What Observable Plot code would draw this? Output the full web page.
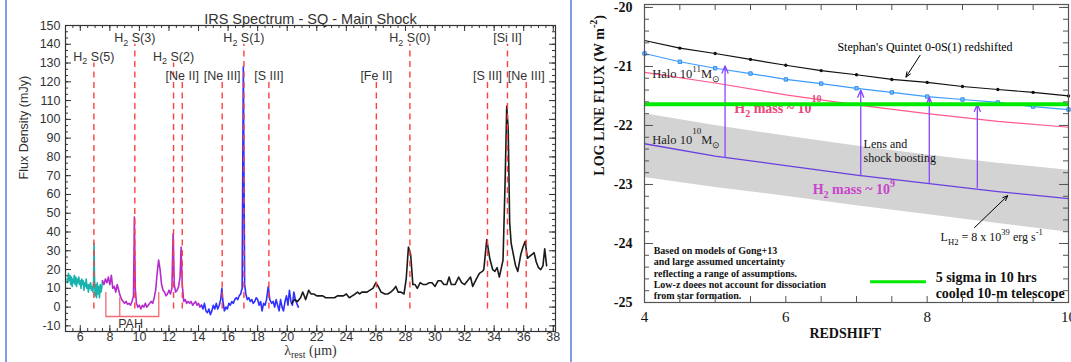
<!DOCTYPE html>
<html>
<head>
<meta charset="utf-8">
<script src="https://cdn.jsdelivr.net/npm/d3@7"></script>
<script src="https://cdn.jsdelivr.net/npm/@observablehq/plot@0.6"></script>
<style>
html,body{margin:0;padding:0;background:#fff;}
#wrap{position:relative;width:1071px;height:362px;overflow:hidden;background:#fff;}
#left{position:absolute;left:0;top:0;width:565px;height:362px;}
#right{position:absolute;left:575px;top:0;width:496px;height:362px;}
.sep{position:absolute;top:0;width:2px;height:362px;background:#7d9ee0;}
svg{overflow:visible;}
</style>
</head>
<body>
<div id="wrap">
<div id="left"></div>
<div id="right"></div>
<div class="sep" style="left:5px"></div>
<div class="sep" style="left:570px"></div>
</div>
<script>
// ================= LEFT PANEL DATA: IRS spectrum =================
const leftTitle = "IRS Spectrum - SQ - Main Shock";
const xTicksL = d3.range(6, 39, 2);
const yTicksL = d3.range(-10, 151, 10);

const cyanW = [5.10,5.15,5.20,5.25,5.30,5.35,5.40,5.45,5.50,5.55,5.60,5.65,5.70,5.75,5.80,5.85,5.90,5.95,6.00,6.05,6.10,6.15,6.20,6.25,6.30,6.35,6.40,6.45,6.50,6.55,6.60,6.65,6.70,6.75,6.80,6.85,6.90,6.93,6.96,7.00,7.05,7.10,7.15,7.20,7.25,7.30,7.35,7.40,7.45,7.50];
const cyanF = [15,13,18,14,17,12,16,11,15,13,17,12,16,11,15,13,16,12,14,10,15,12,14,9,13,11,15,10,12,8,12,10,13,9,11,8,14,34,17,6,12,5,13,7,11,5,12,8,10,14];

const magW = [7.50,7.60,7.70,7.80,7.90,8.00,8.05,8.10,8.20,8.30,8.40,8.50,8.60,8.70,8.80,8.90,9.00,9.10,9.20,9.30,9.40,9.50,9.60,9.66,9.72,9.80,9.90,10.0,10.1,10.2,10.3,10.4,10.5,10.6,10.7,10.8,10.9,11.0,11.1,11.2,11.3,11.4,11.5,11.6,11.7,11.8,11.9,12.0,12.1,12.2,12.28,12.36,12.45,12.55,12.65,12.75,12.82,12.90,13.0,13.1,13.2,13.3,13.4,13.5,13.6,13.7,13.8,13.9,14.0,14.1,14.2];
const magF = [14,12,15,13,16,12,14,17,10,11,8,12,9,6,4,3,2,3,1.5,2,1,3,6,48,10,2,0,1,-1,1,0,2,0,1,2,3,2,5,9,18,25,20,12,9,8,6,7,9,7,10,39,12,8,9,11,16,32,12,3,4,2,3,2,3,1,2,3,1,2,0,1];

const blueW = [14.2,14.3,14.4,14.5,14.6,14.7,14.8,14.9,15.0,15.1,15.2,15.3,15.4,15.5,15.58,15.65,15.75,15.85,15.95,16.05,16.15,16.25,16.35,16.45,16.55,16.65,16.75,16.85,16.95,17.03,17.12,17.2,17.3,17.4,17.5,17.6,17.7,17.8,17.9,18.0,18.1,18.2,18.3,18.4,18.5,18.6,18.72,18.82,18.95,19.05,19.15,19.25,19.35,19.45,19.55,19.65,19.75,19.85,19.95,20.05,20.15,20.25,20.35,20.45,20.55,20.65,20.75];
const blueF = [1,-1,2,-2,-3,-1,-4,-2,1,-1,2,-1,1,4,10,3,-2,0,-1,2,1,3,2,4,5,4,6,7,10,128,12,7,4,5,3,4,2,3,5,4,1,3,-2,2,1,4,11,4,2,3,0,4,1,-2,4,0,-2,3,6,1,9,3,1,8,4,2,0];

const blackW = [20.3,20.5,20.7,20.9,21.05,21.25,21.45,21.6,21.8,22.0,22.2,22.4,22.6,22.8,23.0,23.2,23.4,23.6,23.8,24.0,24.2,24.4,24.6,24.75,24.9,25.05,25.2,25.4,25.6,25.8,26.0,26.15,26.35,26.6,26.8,27.0,27.15,27.35,27.5,27.7,27.9,28.05,28.2,28.35,28.5,28.65,28.8,29.0,29.2,29.4,29.6,29.8,30.0,30.2,30.4,30.6,30.8,30.95,31.1,31.35,31.6,31.8,32.0,32.2,32.4,32.55,32.8,33.0,33.2,33.3,33.5,33.7,33.9,34.05,34.2,34.35,34.6,34.75,34.85,34.95,35.05,35.15,35.3,35.45,35.6,35.8,35.95,36.1,36.25,36.4,36.55,36.7,36.85,37.0,37.15,37.3,37.42,37.55];
const blackF = [2,4,3,5,8,4,9,7,7,6,6,6,5,5,5,5,6,6,6,7,5,6,7,8,7,8,8,8,9,10,13,11,8,7,7,8,9,11,8,8,7,15,32,28,12,12,10,13,12,12,13,13,11,14,14,12,12,16,12,12,16,13,12,14,16,11,15,18,19,20,36,26,20,19,21,16,25,70,107,95,45,34,28,22,19,28,32,35,26,27,28,29,24,21,20,22,31,22];

const lineW = [6.92, 9.69, 12.31, 12.90, 15.60, 17.07, 18.76, 26.03, 28.30, 33.55, 34.90, 36.17];
const lineTop = [130, 140, 130, 120, 120, 140, 120, 120, 140, 120, 140, 120];
const lineLabel = ["H_{2} S(5)", "H_{2} S(3)", "H_{2} S(2)", "[Ne II]", "[Ne III]", "H_{2} S(1)", "[S III]", "[Fe II]", "H_{2} S(0)", "[S III]", "[Si II]", "[Ne III]"];

const pahW = [7.73, 7.73, 11.31, 11.31];
const pahF = [7.8, -5, -5, 7.8];
const pahMidW = [8.67];
const pahMidTop = 5;

// ================= RIGHT PANEL DATA: H2 line flux vs redshift =================
const zFine = [4, 4.5, 5, 5.5, 6, 6.5, 7, 7.5, 8, 8.5, 9, 9.5, 10];
const sqFlux = [-20.56,-20.69,-20.78,-20.88,-20.98,-21.07,-21.14,-21.22,-21.27,-21.34,-21.39,-21.44,-21.50];
const halo11Flux = [-20.78,-20.92,-21.03,-21.12,-21.22,-21.29,-21.37,-21.44,-21.51,-21.56,-21.61,-21.68,-21.73];
const zCoarse = [4, 5, 6, 7, 8, 9, 10];
const mass10Flux = [-21.10,-21.28,-21.48,-21.65,-21.80,-21.93,-22.03];
const mass9Flux = [-22.31,-22.52,-22.68,-22.84,-22.98,-23.12,-23.24];
const bandHi = [-21.80,-22.00,-22.18,-22.35,-22.50,-22.64,-22.76];
const bandLo = [-22.88,-23.05,-23.20,-23.36,-23.51,-23.66,-23.81];
const sensitivity = -21.64;
const boostZ = [5.14, 7.06, 8.03, 8.71];
const boostFrom = [-22.53, -22.85, -22.97, -23.05];
const boostTo = [-20.99, -21.40, -21.52, -21.64];
const xTicksR = [4, 6, 8, 10];
const yTicksR = [-25, -24, -23, -22, -21, -20];
const noteLines = ["Based on models of Gong+13", "and large assumed uncertainty", "reflecting a range of assumptions.", "Low-z doees not account for dissociation", "from star formation."];
const legendLines = ["5 sigma in 10 hrs", "cooled 10-m telescope"];

// ================= helpers =================
const SVGNS = "http://www.w3.org/2000/svg";
function rich(svg) {
  svg.querySelectorAll("text, tspan").forEach(el => {
    if (el.querySelector("tspan")) return;
    const s = el.textContent;
    if (!/[\^_]\{/.test(s)) return;
    const fs = parseFloat(getComputedStyle(el).fontSize) || 12;
    const parts = s.split(/(\^\^\{[^}]*\}|\^\{[^}]*\}|_\{[^}]*\})/).filter(p => p !== "");
    el.textContent = "";
    let cur = 0;
    const add = (txt, off, small) => {
      const t = document.createElementNS(SVGNS, "tspan");
      const d = off - cur;
      if (d) t.setAttribute("dy", d);
      cur = off;
      if (small) t.setAttribute("font-size", (fs * 0.72).toFixed(2));
      t.textContent = txt;
      el.appendChild(t);
    };
    for (const p of parts) {
      if (p.startsWith("^^{")) add(p.slice(3, -1), -fs * 0.85, true);
      else if (p.startsWith("^{")) add(p.slice(2, -1), -fs * 0.5, true);
      else if (p.startsWith("_{")) add(p.slice(2, -1), fs * 0.28, true);
      else add(p, 0, false);
    }
  });
}
const pairs = (xs, ys, kx, ky) => xs.map((x, i) => ({[kx]: x, [ky]: ys[i]}));

// ================= LEFT PLOT =================
const LX = [5, 38.15], LY = [-13, 150];
const LW = 565, LH = 362, LM = {l: 65, r: 10, t: 25, b: 31};
const lkx = (LW - LM.l - LM.r) / (LX[1] - LX[0]);
const lky = (LH - LM.t - LM.b) / (LY[1] - LY[0]);
const xMinorL = d3.range(5, 38.01, 0.5);
const yMinorL = d3.range(-10, 150.01, 10 / 3);
const lines = lineW.map((w, i) => ({w, top: lineTop[i], label: lineLabel[i]}));
const tickC = "#333";

const left = Plot.plot({
  width: LW, height: LH,
  marginLeft: LM.l, marginRight: LM.r, marginTop: LM.t, marginBottom: LM.b,
  style: {fontFamily: "'Liberation Sans', Arial, sans-serif", fontSize: "12.5px", color: "#333", background: "transparent"},
  x: {domain: LX},
  y: {domain: LY},
  marks: [
    Plot.line(pairs(cyanW, cyanF, "w", "f"), {x: "w", y: "f", stroke: "#19b3ad", strokeWidth: 1.6}),
    Plot.line(pairs(magW, magF, "w", "f"), {x: "w", y: "f", stroke: "#b52bcc", strokeWidth: 1.6}),
    Plot.line(pairs(blueW, blueF, "w", "f"), {x: "w", y: "f", stroke: "#2f2fff", strokeWidth: 1.6}),
    Plot.line(pairs(blackW, blackF, "w", "f"), {x: "w", y: "f", stroke: "#1a1a1a", strokeWidth: 1.6}),
    Plot.ruleX(lines, {x: "w", y1: -1, y2: "top", stroke: "#ff3f3f", strokeWidth: 1.4, strokeDasharray: "6,4.5"}),
    Plot.text(lines, {x: "w", y: d => d.top + 3.3, text: "label", fill: "#333", fontSize: 12.5}),
    Plot.line(pairs(pahW, pahF, "w", "f"), {x: "w", y: "f", stroke: "#f26a72", strokeWidth: 1.3}),
    Plot.ruleX(pahMidW, {x: d => d, y1: pahF[1], y2: pahMidTop, stroke: "#f26a72", strokeWidth: 1.3}),
    Plot.text(["PAH"], {x: 9.4, y: -8.9, text: d => d, fill: "#333", fontSize: 12.5}),
    Plot.text([leftTitle], {frameAnchor: "top", dy: -12, text: d => d, fill: "#333", fontSize: 14.5}),
    Plot.text(["λ_{rest} (μm)"], {frameAnchor: "bottom", dy: 23, text: d => d, fill: "#333", fontSize: 14, fontFamily: "'Liberation Serif', serif"}),
    Plot.text(["Flux Density (mJy)"], {frameAnchor: "left", y: 68, dx: -42, rotate: -90, text: d => d, fill: "#333", fontSize: 12.5}),
    Plot.ruleX(xMinorL, {x: d => d, y1: LY[0], y2: LY[0] + 3 / lky, stroke: tickC}),
    Plot.ruleX(xTicksL, {x: d => d, y1: LY[0], y2: LY[0] + 6 / lky, stroke: tickC}),
    Plot.ruleX(xMinorL, {x: d => d, y1: LY[1], y2: LY[1] - 3 / lky, stroke: tickC}),
    Plot.ruleX(xTicksL, {x: d => d, y1: LY[1], y2: LY[1] - 6 / lky, stroke: tickC}),
    Plot.ruleY(yMinorL, {y: d => d, x1: LX[0], x2: LX[0] + 3 / lkx, stroke: tickC}),
    Plot.ruleY(yTicksL, {y: d => d, x1: LX[0], x2: LX[0] + 6 / lkx, stroke: tickC}),
    Plot.ruleY(yMinorL, {y: d => d, x1: LX[1], x2: LX[1] - 3 / lkx, stroke: tickC}),
    Plot.ruleY(yTicksL, {y: d => d, x1: LX[1], x2: LX[1] - 6 / lkx, stroke: tickC}),
    Plot.frame({stroke: "#333", strokeWidth: 1.2}),
    Plot.axisX(xTicksL, {tickSize: 0, tickPadding: 1, label: null, fill: "#333", fontSize: 12.5, tickFormat: d => String(d)}),
    Plot.axisY(yTicksL, {tickSize: 0, tickPadding: 5, label: null, fill: "#333", fontSize: 12.5, tickFormat: d => String(d)})
  ]
});
document.getElementById("left").appendChild(left);
rich(left);

// ================= RIGHT PLOT =================
const RX = [4, 10], RY = [-25, -19.95];
const RW = 496, RH = 362, RM = {l: 69, r: 3, t: 4, b: 60};
const rkx = (RW - RM.l - RM.r) / (RX[1] - RX[0]);
const rky = (RH - RM.t - RM.b) / (RY[1] - RY[0]);
const yMinorR = d3.range(-25, -19.99, 0.2);
const xMinorR = d3.range(4, 10.01, 0.5);
const band = zCoarse.map((z, i) => ({z, lo: bandLo[i], hi: bandHi[i]}));
const sq = pairs(zFine, sqFlux, "z", "v");
const h11 = pairs(zFine, halo11Flux, "z", "v");
const m10 = pairs(zCoarse, mass10Flux, "z", "v");
const m9 = pairs(zCoarse, mass9Flux, "z", "v");
const boosts = boostZ.map((z, i) => ({z, from: boostFrom[i], to: boostTo[i]}));
const rTick = "#555";
const serif = "'Liberation Serif', 'Times New Roman', serif";

const right = Plot.plot({
  width: RW, height: RH,
  marginLeft: RM.l, marginRight: RM.r, marginTop: RM.t, marginBottom: RM.b,
  style: {fontFamily: serif, fontSize: "13px", color: "#000", background: "transparent"},
  x: {domain: RX},
  y: {domain: RY},
  marks: [
    Plot.areaY(band, {x: "z", y1: "lo", y2: "hi", fill: "#d3d3d3"}),
    Plot.line(m10, {x: "z", y: "v", stroke: "#ff5a8c", strokeWidth: 1.2}),
    Plot.line(m9, {x: "z", y: "v", stroke: "#6a3fe0", strokeWidth: 1.3}),
    Plot.line(h11, {x: "z", y: "v", stroke: "#3c9cff", strokeWidth: 1.2}),
    Plot.dot(h11, {x: "z", y: "v", symbol: "square", r: 1.9, fill: "#7fbfff", stroke: "#2f8cf0", strokeWidth: 1}),
    Plot.line(sq, {x: "z", y: "v", stroke: "#111", strokeWidth: 1.2}),
    Plot.dot(sq.slice(1), {x: "z", y: "v", r: 1.7, fill: "#111"}),
    Plot.text(["Stephan's Quintet 0-0S(1) redshifted"], {x: 6.73, y: -20.68, text: d => d, textAnchor: "start", fontSize: 12, fill: "#000"}),
    Plot.text(["Halo 10^{11}M_{⊙}"], {x: 4.11, y: -21.13, text: d => d, textAnchor: "start", fontSize: 12.5, fill: "#222"}),
    Plot.text(["Halo 10^^{10}M_{⊙}"], {x: 4.11, y: -22.25, text: d => d, textAnchor: "start", fontSize: 12.5, fill: "#222"}),
    Plot.text(["H_{2} mass ~ 10^^{10}"], {x: 5.27, y: -21.72, text: d => d, textAnchor: "start", fontSize: 14, fontWeight: "bold", fill: "#e8467c"}),
    Plot.text(["Lens and\nshock boosting"], {x: 7.1, y: -22.42, text: d => d, textAnchor: "start", fontSize: 12, lineHeight: 1.2, fill: "#111"}),
    Plot.text(["H_{2} mass ~ 10^{9}"], {x: 6.38, y: -23.09, text: d => d, textAnchor: "start", fontSize: 14, fontWeight: "bold", fill: "#c944cc"}),
    Plot.text(["L_{H2} = 8 x 10^{39} erg s^{-1}"], {x: 8.19, y: -23.9, text: d => d, textAnchor: "start", fontSize: 12, fill: "#111"}),
    Plot.text([noteLines.join("\n")], {x: 4.13, y: -24.5, text: d => d, textAnchor: "start", fontSize: 10, fontWeight: "bold", lineHeight: 1.13, fill: "#111"}),
    Plot.arrow(boosts, {x1: "z", x2: "z", y1: "from", y2: "to", stroke: "#8b45ff", strokeWidth: 1.3, headLength: 9, headAngle: 45}),
    Plot.ruleY([sensitivity], {y: d => d, stroke: "#00ea00", strokeWidth: 4}),
    Plot.arrow([{x1: 7.9, y1: -20.81, x2: 7.7, y2: -21.18}, {x1: 8.67, y1: -23.73, x2: 9.14, y2: -23.19}], {x1: "x1", y1: "y1", x2: "x2", y2: "y2", stroke: "#000", strokeWidth: 1, headLength: 8, headAngle: 45}),
    Plot.ruleY([{v: -24.65}], {y: "v", x1: 7.2, x2: 7.99, stroke: "#00ea00", strokeWidth: 3}),
    Plot.text([legendLines.join("\n")], {x: 8.12, y: -24.70, text: d => d, textAnchor: "start", fontSize: 14, fontWeight: "bold", lineHeight: 1.14, fill: "#111"}),
    Plot.text(["REDSHIFT"], {frameAnchor: "bottom", x: 6.84, dy: 35, text: d => d, fontSize: 14, fontWeight: "bold", fill: "#111"}),
    Plot.text(["LOG LINE FLUX (W m^{-2})"], {frameAnchor: "left", y: -22.85, dx: -45, rotate: -90, text: d => d, fontSize: 14, fontWeight: "bold", fill: "#111"}),
    Plot.ruleY(yMinorR, {y: d => d, x1: RX[0], x2: RX[0] + 5 / rkx, stroke: rTick}),
    Plot.ruleY(yTicksR, {y: d => d, x1: RX[0], x2: RX[0] + 9 / rkx, stroke: rTick}),
    Plot.ruleY(yMinorR, {y: d => d, x1: RX[1], x2: RX[1] - 5 / rkx, stroke: rTick}),
    Plot.ruleY(yTicksR, {y: d => d, x1: RX[1], x2: RX[1] - 9 / rkx, stroke: rTick}),
    Plot.ruleX(xMinorR, {x: d => d, y1: RY[0], y2: RY[0] + 6 / rky, stroke: rTick}),
    Plot.ruleX(xMinorR, {x: d => d, y1: RY[1], y2: RY[1] - 6 / rky, stroke: rTick}),
    Plot.frame({stroke: "#555", strokeWidth: 1.2}),
    Plot.axisX(xTicksR, {tickSize: 0, tickPadding: 9, label: null, fontSize: 15, fill: "#111", tickFormat: d => String(d)}),
    Plot.axisY(yTicksR, {tickSize: 0, tickPadding: 12, label: null, fontSize: 14, fontWeight: "bold", fill: "#111", tickFormat: d => String(d)})
  ]
});
document.getElementById("right").appendChild(right);
rich(right);
</script>
</body>
</html>
